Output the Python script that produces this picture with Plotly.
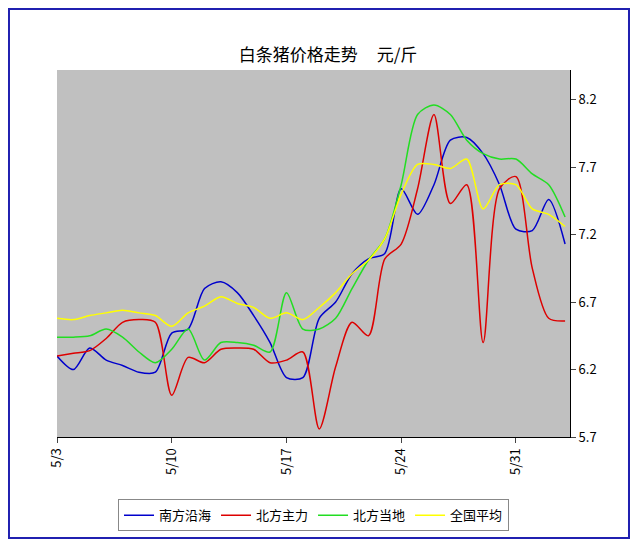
import plotly.graph_objects as go

days = list(range(32))  # 5/3 .. 6/3
tick_pos = [0, 7, 14, 21, 28]
tick_text = ["5/3", "5/10", "5/17", "5/24", "5/31"]

south = [6.30, 6.20, 6.36, 6.27, 6.23, 6.18, 6.18, 6.47, 6.50, 6.80, 6.85, 6.77, 6.60, 6.40, 6.14, 6.14,
         6.58, 6.70, 6.91, 7.02, 7.06, 7.54, 7.35, 7.57, 7.90, 7.92, 7.80, 7.57, 7.24, 7.23, 7.46, 7.13]
north_main = [6.30, 6.32, 6.34, 6.43, 6.55, 6.57, 6.55, 6.01, 6.29, 6.25, 6.35, 6.36, 6.35, 6.25, 6.27, 6.33,
              5.76, 6.22, 6.55, 6.45, 7.02, 7.13, 7.54, 8.09, 7.43, 7.57, 6.40, 7.54, 7.63, 6.95, 6.58, 6.56]
north_local = [6.44, 6.44, 6.45, 6.50, 6.44, 6.33, 6.25, 6.35, 6.50, 6.27, 6.40, 6.40, 6.38, 6.33, 6.77, 6.50,
               6.50, 6.58, 6.80, 7.01, 7.17, 7.57, 8.09, 8.16, 8.09, 7.90, 7.80, 7.76, 7.76, 7.65, 7.57, 7.33]
national = [6.58, 6.57, 6.60, 6.62, 6.64, 6.62, 6.60, 6.52, 6.62, 6.67, 6.74, 6.69, 6.66, 6.58, 6.62, 6.57,
            6.66, 6.77, 6.91, 7.01, 7.17, 7.50, 7.72, 7.72, 7.69, 7.76, 7.39, 7.57, 7.57, 7.39, 7.35, 7.26]

series = [("南方沿海", south, "#0000cc"), ("北方主力", north_main, "#dd0000"),
          ("北方当地", north_local, "#22dd22"), ("全国平均", national, "#ffff00")]

fig = go.Figure()
for name, vals, col in series:
    fig.add_trace(go.Scatter(x=days, y=vals, name=name, mode="lines",
                             line=dict(color=col, width=1.5, shape="spline", smoothing=0.8)))

fig.update_layout(
    width=640, height=547,
    paper_bgcolor="white", plot_bgcolor="#c0c0c0",
    margin=dict(l=49, r=78, t=62, b=118),
    font=dict(family="Noto Sans CJK SC", size=13, color="black"),
    title=dict(text="白条猪价格走势     元/斤", x=0.5, xanchor="center", y=0.925, font=dict(size=17)),
    legend=dict(orientation="h", x=0.5, xanchor="center", y=-0.17, yanchor="top",
                bordercolor="#888", borderwidth=1, font=dict(size=13)),
    xaxis=dict(range=[0, 31.3], tickvals=tick_pos, ticktext=tick_text, tickangle=-90,
               showgrid=False, zeroline=False, showline=True, linecolor="black", ticks="outside"),
    yaxis=dict(range=[5.7, 8.42], side="right", tickvals=[5.7, 6.2, 6.7, 7.2, 7.7, 8.2],
               ticktext=["5.7", "6.2", "6.7", "7.2", "7.7", "8.2"], showgrid=False, zeroline=False,
               showline=True, linecolor="black", ticks="outside"),
    shapes=[dict(type="rect", xref="paper", yref="paper", x0=-0.0936, x1=1.115, y0=-0.275, y1=1.166,
                 line=dict(color="#2020b0", width=2))],
)
fig.write_html("out.html")
